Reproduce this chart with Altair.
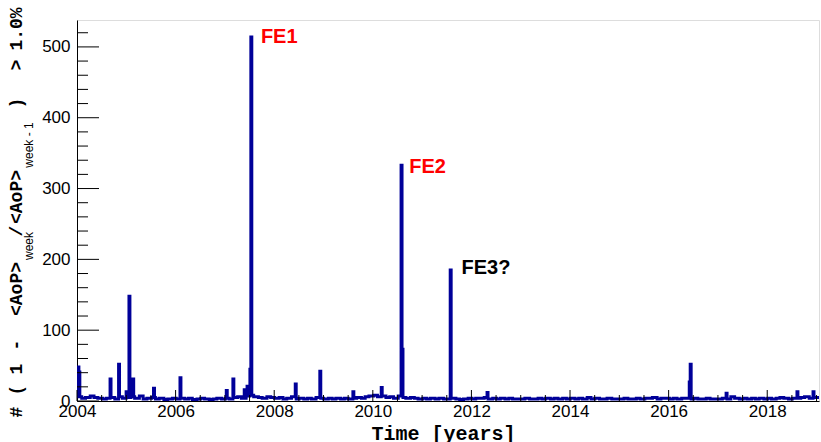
import altair as alt
import pandas as pd

# ---------------- data ----------------
start_year = 2004.0
end_year = 2019.05
weeks_per_year = 52.18

# typical weekly count, one value per month (2004-01 ... 2019-01)
baseline_monthly = [
    6, 4, 5, 7, 5, 4, 3, 4, 5, 3, 6, 4,   # 2004
    5, 6, 4, 7, 3, 4, 5, 3, 4, 2, 3, 4,   # 2005
    3, 4, 3, 4, 2, 3, 4, 3, 2, 3, 4, 3,   # 2006
    4, 3, 5, 6, 4, 7, 8, 6, 5, 4, 6, 5,   # 2007
    4, 5, 3, 4, 6, 3, 4, 3, 4, 3, 5, 4,   # 2008
    3, 4, 3, 4, 3, 4, 3, 4, 5, 4, 6, 7,   # 2009
    8, 6, 7, 5, 6, 4, 7, 5, 4, 5, 4, 3,   # 2010
    4, 3, 4, 3, 4, 3, 3, 4, 3, 2, 3, 4,   # 2011
    3, 4, 4, 5, 3, 4, 3, 4, 3, 4, 3, 3,   # 2012
    3, 4, 3, 3, 4, 3, 4, 3, 4, 3, 4, 3,   # 2013
    4, 3, 4, 3, 5, 3, 4, 3, 3, 4, 3, 3,   # 2014
    3, 4, 3, 3, 4, 3, 4, 4, 5, 3, 4, 4,   # 2015
    3, 4, 3, 4, 4, 3, 4, 3, 3, 4, 3, 3,   # 2016
    3, 4, 3, 6, 4, 3, 4, 3, 4, 3, 4, 3,   # 2017
    4, 3, 4, 5, 4, 3, 4, 4, 5, 6, 4, 5,   # 2018
    5,                                    # 2019
]

# individual weeks standing out of the baseline
spike_years = [2004.02, 2004.04, 2004.67, 2004.84, 2005.00, 2005.06, 2005.14,
               2005.55, 2006.09, 2007.02, 2007.17, 2007.40, 2007.45, 2007.50,
               2007.53, 2008.42, 2008.93, 2009.60, 2010.18, 2010.57, 2010.59,
               2011.57, 2012.31, 2016.41, 2016.43, 2017.16, 2018.60, 2018.93]
spike_values = [48, 41, 31, 52, 13, 148, 31,
                18, 33, 15, 31, 16, 21, 45,
                514, 24, 42, 13, 19, 333, 73,
                185, 12, 27, 52, 11, 13, 13]

ann_labels = ["FE1", "FE2", "FE3?"]
ann_x = [2007.73, 2010.74, 2011.80]
ann_y = [506, 322, 180]
ann_colors = ["#ff0000", "#ff0000", "#000000"]

x_label_values = [2004, 2006, 2008, 2010, 2012, 2014, 2016, 2018]
x_minor_values = [2004 + 0.5 * k for k in range(31) if (0.5 * k) % 2 != 0]
y_major_values = [0, 100, 200, 300, 400, 500]
y_minor_values = [v for v in range(0, 540, 20) if v % 100 != 0]

# ---------------- build histogram table ----------------
n_weeks = int(round((end_year - start_year) * weeks_per_year))
vals = []
for i in range(n_weeks):
    t = start_year + i / weeks_per_year
    m = min(int((t - start_year) * 12), len(baseline_monthly) - 1)
    vals.append(baseline_monthly[m])
for sy, sv in zip(spike_years, spike_values):
    idx = int(round((sy - start_year) * weeks_per_year))
    vals[idx] = sv
ts = [start_year + i / weeks_per_year for i in range(n_weeks)]
ts.append(end_year + 0.05)
vals.append(vals[-1])
hist_df = pd.DataFrame({"t": ts, "n": vals})

ann_df = pd.DataFrame({"t": ann_x, "n": ann_y, "label": ann_labels, "color": ann_colors})

W, H = 742, 381
XS = alt.Scale(domain=[2004, 2019.05], nice=False, zero=False)
YS = alt.Scale(domain=[0, 538], nice=False, zero=True)

hist = alt.Chart(hist_df).mark_line(
    interpolate="step-after", color="#000099", strokeWidth=3, clip=True
).encode(
    x=alt.X("t:Q", scale=XS, axis=alt.Axis(
        values=x_label_values, format="d", grid=False, ticks=False,
        labelFont="Liberation Sans", labelFontSize=17, labelColor="black",
        labelPadding=2, labelFlush=False, labelOverlap=False,
        domainColor="black", domainWidth=1,
        title="Time [years]", titleFont="Liberation Mono", titleFontWeight="bold",
        titleFontSize=20, titleColor="black", titleX=366, titleY=38,
        titleAlign="center", titleBaseline="alphabetic")),
    y=alt.Y("n:Q", scale=YS, axis=alt.Axis(
        values=y_major_values, grid=False, ticks=False,
        labelFont="Liberation Sans", labelFontSize=17, labelColor="black",
        labelPadding=7, labelFlush=False, labelOverlap=False,
        domainColor="black", domainWidth=1, title=None)),
)

x_major = alt.Chart(pd.DataFrame({"t": x_label_values})).mark_rule(color="black").encode(
    x=alt.X("t:Q", scale=XS), y=alt.value(H), y2=alt.value(H - 11))
x_minor = alt.Chart(pd.DataFrame({"t": x_minor_values})).mark_rule(color="black").encode(
    x=alt.X("t:Q", scale=XS), y=alt.value(H), y2=alt.value(H - 6))
y_major = alt.Chart(pd.DataFrame({"n": y_major_values})).mark_rule(color="black").encode(
    y=alt.Y("n:Q", scale=YS), x=alt.value(0), x2=alt.value(22))
y_minor = alt.Chart(pd.DataFrame({"n": y_minor_values})).mark_rule(color="black").encode(
    y=alt.Y("n:Q", scale=YS), x=alt.value(0), x2=alt.value(11))

ann = alt.Chart(ann_df).mark_text(
    align="left", baseline="alphabetic", font="Liberation Sans", fontWeight="bold", fontSize=20
).encode(
    x=alt.X("t:Q", scale=XS),
    y=alt.Y("n:Q", scale=YS),
    text="label:N",
    color=alt.Color("color:N", scale=None),
)

# y-axis title pieces (rotated); centre positions in page pixels
main_tokens = ["#", "(", "1", "-", "<AoP>", "/", "<AoP>", ")", ">", "1.0%"]
main_cy = [412, 390, 369, 345, 289, 231, 197, 103, 65, 29]
sub_tokens = ["week", "week - 1"]
sub_cy = [246, 145]

title_layers = []
for tok, cy in zip(main_tokens, main_cy):
    title_layers.append(
        alt.Chart(pd.DataFrame({"k": [0]})).mark_text(
            angle=270, align="center", baseline="middle", font="Liberation Mono",
            fontWeight="bold", fontSize=18, color="black", text=tok
        ).encode(x=alt.value(17 - 77), y=alt.value(cy - 20))
    )
for tok, cy in zip(sub_tokens, sub_cy):
    title_layers.append(
        alt.Chart(pd.DataFrame({"k": [0]})).mark_text(
            angle=270, align="center", baseline="middle", font="Liberation Sans",
            fontSize=12, color="black", text=tok
        ).encode(x=alt.value(29 - 77), y=alt.value(cy - 20))
    )

chart = alt.layer(
    hist, x_major, x_minor, y_major, y_minor, ann, *title_layers
).properties(
    width=W, height=H,
    autosize=alt.AutoSizeParams(type="none"),
    padding={"left": 77, "top": 20, "right": 2, "bottom": 41},
).configure_view(stroke="black", strokeWidth=1).configure(background="white")

chart.save("out.html", embed_options={"renderer": "svg", "actions": False})
